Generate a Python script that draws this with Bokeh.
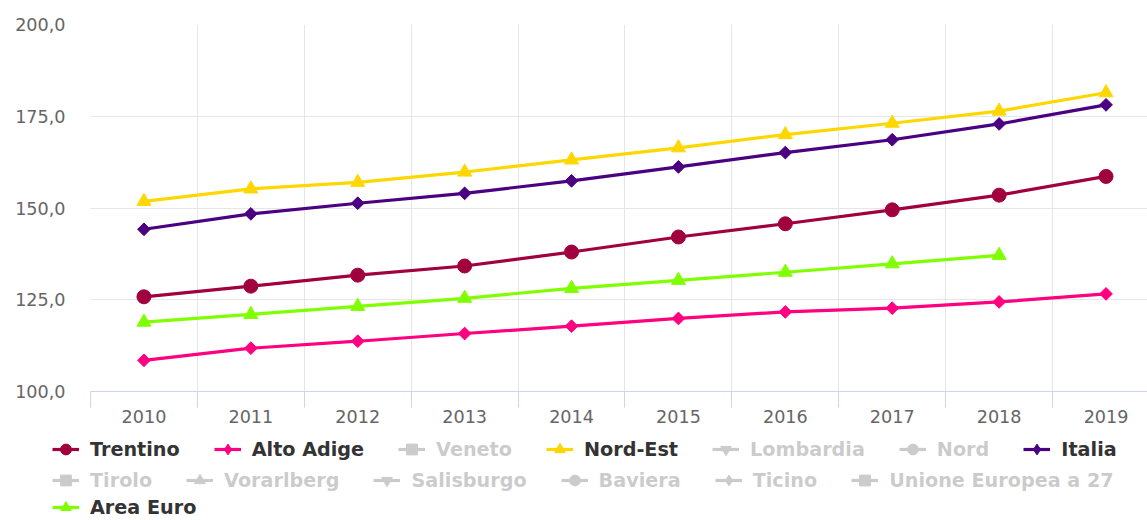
from bokeh.plotting import figure
from bokeh.models import Legend, LegendItem, FixedTicker, Range1d
from bokeh.layouts import column
from bokeh.embed import file_html
from bokeh.resources import INLINE

# ---- data ----
years = [2010, 2011, 2012, 2013, 2014, 2015, 2016, 2017, 2018, 2019]
year_labels = ["2010", "2011", "2012", "2013", "2014", "2015", "2016", "2017", "2018", "2019"]

trentino = [125.8, 128.7, 131.7, 134.2, 138.0, 142.1, 145.7, 149.5, 153.5, 158.6]
alto_adige = [108.5, 111.8, 113.7, 115.8, 117.8, 119.9, 121.7, 122.7, 124.4, 126.6]
nord_est = [151.8, 155.2, 157.0, 159.8, 163.1, 166.4, 170.0, 173.1, 176.4, 181.4]
italia = [144.2, 148.4, 151.3, 154.0, 157.4, 161.2, 165.1, 168.6, 172.9, 178.1]
area_euro = [118.9, 121.0, 123.2, 125.4, 128.1, 130.3, 132.5, 134.8, 137.1]

y_ticks = [100, 125, 150, 175, 200]
y_tick_labels = ["100,0", "125,0", "150,0", "175,0", "200,0"]

# series order as in the legend: (name, values or None if hidden, colour, marker)
series = [
    ("Trentino", trentino, "#a1003f", "circle"),
    ("Alto Adige", alto_adige, "#ff0080", "diamond"),
    ("Veneto", None, None, "square"),
    ("Nord-Est", nord_est, "#ffd700", "triangle"),
    ("Lombardia", None, None, "inverted_triangle"),
    ("Nord", None, None, "circle"),
    ("Italia", italia, "#4b0082", "diamond"),
    ("Tirolo", None, None, "square"),
    ("Vorarlberg", None, None, "triangle"),
    ("Salisburgo", None, None, "inverted_triangle"),
    ("Baviera", None, None, "circle"),
    ("Ticino", None, None, "diamond"),
    ("Unione Europea a 27", None, None, "square"),
    ("Area Euro", area_euro, "#7fff00", "triangle"),
]
legend_rows = [7, 6, 1]  # items per legend row

FONT = "DejaVu Sans"
NAN = float("nan")

p = figure(width=1147, height=432,
           x_range=Range1d(2009.5, 2019.388), y_range=Range1d(100, 200),
           output_backend="svg", toolbar_location=None,
           min_border_left=90, min_border_right=0, min_border_top=24,
           min_border_bottom=41)
p.outline_line_color = None
p.background_fill_color = "white"
p.border_fill_color = "white"

# x axis
half_years = [y - 0.5 for y in years]
xt = FixedTicker(ticks=years, minor_ticks=half_years)
p.xaxis.ticker = xt
p.xgrid.ticker = xt
p.xaxis.major_label_overrides = {y: l for y, l in zip(years, year_labels)}
p.xaxis.major_tick_line_color = None
p.xaxis.major_tick_out = 0
p.xaxis.major_tick_in = 0
p.xaxis.minor_tick_line_color = "#ccd6eb"
p.xaxis.minor_tick_out = 16
p.xaxis.minor_tick_in = 0
p.xaxis.axis_line_color = "#ccd6eb"
p.xaxis.axis_line_width = 1
p.xaxis.major_label_text_color = "#666666"
p.xaxis.major_label_text_font = FONT
p.xaxis.major_label_text_font_size = "17.6px"
p.xaxis.major_label_standoff = 2
p.xgrid.grid_line_color = None
p.xgrid.minor_grid_line_color = "#e6e6e6"

# y axis
yt = FixedTicker(ticks=y_ticks, minor_ticks=[])
p.yaxis.ticker = yt
p.ygrid.ticker = yt
p.yaxis.major_label_overrides = {t: l for t, l in zip(y_ticks, y_tick_labels)}
p.yaxis.axis_line_color = None
p.yaxis.major_tick_line_color = None
p.yaxis.minor_tick_line_color = None
p.yaxis.major_tick_out = 0
p.yaxis.major_tick_in = 0
p.yaxis.major_label_text_color = "#666666"
p.yaxis.major_label_text_font = FONT
p.yaxis.major_label_text_font_size = "17.6px"
p.yaxis.major_label_standoff = 25
p.ygrid.grid_line_color = "#e6e6e6"

# legend strip below the chart
lf = figure(width=1147, height=88, x_range=Range1d(0, 1), y_range=Range1d(0, 1),
            output_backend="svg", toolbar_location=None,
            x_axis_type=None, y_axis_type=None,
            min_border_left=0, min_border_right=0, min_border_top=0,
            min_border_bottom=0)
lf.outline_line_color = None
lf.grid.visible = False
lf.background_fill_color = "white"
lf.border_fill_color = "white"
for fig in (p, lf):
    if "frame_align" in fig.properties():
        fig.frame_align = False


def add_series(fig, xs, ys, c, marker, legend_twin=False):
    ln = fig.line(xs, ys, line_color=c, line_width=3.2)
    if marker == "diamond":
        if legend_twin:
            sc = fig.scatter(xs, ys, marker="diamond", size=14,
                             fill_color=c, line_color=c)
        else:
            sc = fig.scatter(xs, ys, marker="square", angle=0.7853981634, size=9,
                             fill_color=c, line_color=c)
    elif marker in ("triangle", "inverted_triangle"):
        sc = fig.scatter(xs, ys, marker=marker, size=14, fill_color=c, line_color=c)
    elif marker == "square":
        sc = fig.scatter(xs, ys, marker="square", size=11, fill_color=c, line_color=c)
    else:
        sc = fig.scatter(xs, ys, marker="circle", size=14, fill_color=c, line_color=c)
    return ln, sc


items = []
for name, vals, color, marker in series:
    if vals is not None:
        xs, ys = years[:len(vals)], vals
        add_series(p, xs, ys, color, marker)
        # legend twins in the strip (their data lies outside the strip's view)
        ln, sc = add_series(lf, xs, ys, color, marker, legend_twin=True)
    else:
        # hidden series: legend entry only
        ln, sc = add_series(lf, [NAN], [NAN], "#333333", marker, legend_twin=True)
        ln.visible = False
        sc.visible = False
    items.append(LegendItem(label=name, renderers=[ln, sc]))

row_y = [57, 26, 0]
row_gh = [28, 28, 26]
start = 0
for n, yoff, gh in zip(legend_rows, row_y, row_gh):
    lg = Legend(items=items[start:start + n], orientation="horizontal",
                nrows=1, ncols=n, location=(52, yoff))
    start += n
    lg.background_fill_alpha = 0
    lg.border_line_color = None
    lg.padding = 0
    lg.margin = 0
    lg.spacing = 34
    lg.glyph_width = 27
    lg.glyph_height = gh
    lg.label_standoff = 11
    lg.label_text_font = FONT
    lg.label_text_font_style = "bold"
    lg.label_text_font_size = "19.2px"
    lg.label_text_color = "#333333"
    lg.label_height = 20
    lg.inactive_fill_color = "white"
    lg.inactive_fill_alpha = 0.75
    lg.click_policy = "hide"
    lf.add_layout(lg, "center")

open("out.html", "w").write(file_html(column(p, lf), INLINE))
